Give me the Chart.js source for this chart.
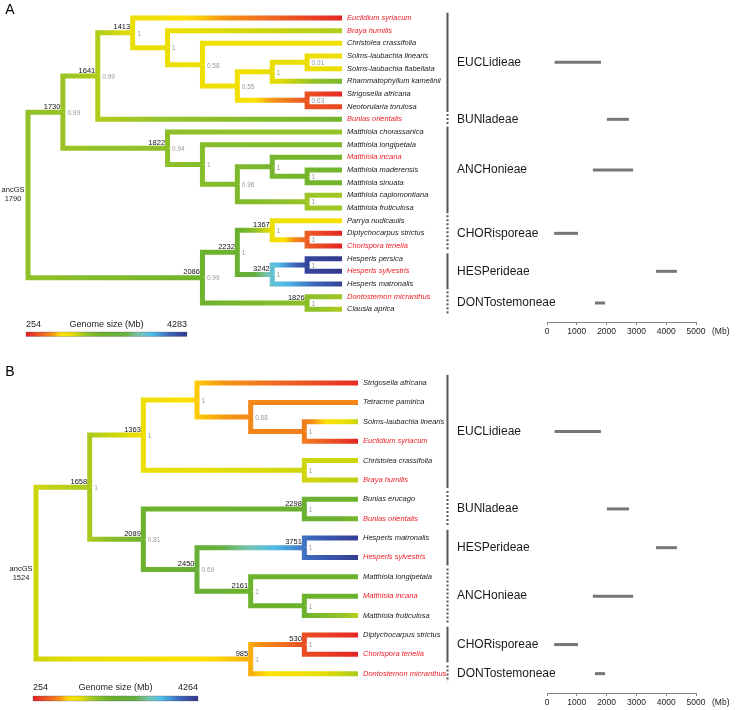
<!DOCTYPE html>
<html>
<head>
<meta charset="utf-8">
<script src="https://cdn.jsdelivr.net/npm/chart.js@4.4.0/dist/chart.umd.min.js"></script>
<style>
  body { margin: 0; background: #fff; }
  #wrap { position: relative; width: 740px; height: 710px; }
  canvas { position: absolute; }
</style>
</head>
<body>
<div id="wrap">
  <canvas id="treeA" width="450" height="345" style="left:0;top:0"></canvas>
  <canvas id="rangeA" width="295" height="345" style="left:445px;top:0"></canvas>
  <canvas id="treeB" width="450" height="360" style="left:0;top:350px"></canvas>
  <canvas id="rangeB" width="295" height="360" style="left:445px;top:350px"></canvas>
</div>
<script>
// ---- panel A data ----
const tipNamesA = ['Euclidium syriacum', 'Braya humilis', 'Christolea crassifolia', 'Solms-laubachia linearis',
  'Solms-laubachia flabellata', 'Rhammatophyllum kamelinii', 'Strigosella africana', 'Neotorularia torulosa',
  'Bunias orientalis', 'Matthiola chorassanica', 'Matthiola longipetala', 'Matthiola incana',
  'Matthiola maderensis', 'Matthiola sinuata', 'Matthiola capiomontiana', 'Matthiola fruticulosa',
  'Parrya nudicaulis', 'Diptychocarpus strictus', 'Chorispora tenella', 'Hesperis persica',
  'Hesperis sylvestris', 'Hesperis matronalis', 'Dontostemon micranthus', 'Clausia aprica'];
const tipGsA = [300, 1650, 1300, 1350, 1350, 2000, 300, 480, 2050, 1750, 1950, 2050,
  2050, 2050, 1700, 1700, 1200, 300, 280, 4250, 4250, 4200, 1700, 1650];
const redTipsA = [0, 1, 8, 11, 18, 20, 22];
// tree topology, internal nodes numbered in order of their opening bracket
const treeA = '((((0,(1,(2,(((3,4),5),(6,7))))),8),(9,(10,((11,(12,13)),(14,15))))),(((16,(17,18)),((19,20),21)),(22,23)))';
const nodeDepthA = [0, 1, 2, 3, 4, 5, 6, 7, 8, 8, 4, 5, 6, 7, 8, 8, 5, 6, 7, 8, 7, 8, 8];
const nodeGsA = [1790, 1730, 1641, 1413, 1380, 1330, 1300, 1400, 1380, 560, 1822, 1880,
  1950, 2020, 2050, 1720, 2086, 2232, 1367, 620, 3242, 4150, 1826];
const nodeSupportA = [null, 0.99, 0.99, 1, 1, 0.58, 0.55, 1, 0.91, 0.63, 0.94, 1,
  0.96, 1, 1, 1, 0.99, 1, 1, 1, 1, 1, 1];
const labelledNodesA = [1, 2, 3, 10, 16, 17, 18, 20, 22];
const tipDepthA = 9;
const gsRangeA = [254, 4283];
const tribeNamesA = ['EUCLidieae', 'BUNladeae', 'ANCHonieae', 'CHORisporeae', 'HESPerideae', 'DONTostemoneae'];
const tribeFirstA = [0, 8, 9, 16, 19, 22];
const tribeLastA = [7, 8, 15, 18, 21, 23];
const tribeMinA = [254, 2010, 1540, 240, 3660, 1610];
const tribeMaxA = [1810, 2750, 2890, 1040, 4360, 1950];

// ---- panel B data ----
const tipNamesB = ['Strigosella africana', 'Tetracme pamirica', 'Solms-laubachia linearis', 'Euclidium syriacum',
  'Christolea crassifolia', 'Braya humilis', 'Bunias erucago', 'Bunias orientalis', 'Hesperis matronalis',
  'Hesperis sylvestris', 'Matthiola longipetala', 'Matthiola incana', 'Matthiola fruticulosa',
  'Diptychocarpus strictus', 'Chorispora tenella', 'Dontostemon micranthus'];
const tipGsB = [330, 850, 1550, 300, 1520, 1580, 2100, 2000, 4200, 4200, 2100, 2100, 1600, 300, 290, 1650];
const redTipsB = [3, 5, 7, 9, 11, 14, 15];
const treeB = '((((0,(1,(2,3))),(4,5)),((6,7),((8,9),(10,(11,12))))),((13,14),15))';
const nodeDepthB = [0, 1, 2, 3, 4, 5, 5, 2, 5, 3, 5, 4, 5, 4, 5];
const nodeGsB = [1524, 1658, 1363, 1050, 850, 800, 1520, 2089, 2298, 2450, 3751, 2161, 2100, 985, 530];
const nodeSupportB = [null, 1, 1, 1, 0.88, 1, 1, 0.81, 1, 0.69, 1, 1, 1, 1, 1];
const labelledNodesB = [1, 2, 7, 8, 9, 10, 11, 13, 14];
const tipDepthB = 6;
const gsRangeB = [254, 4264];
const tribeNamesB = ['EUCLidieae', 'BUNladeae', 'HESPerideae', 'ANCHonieae', 'CHORisporeae', 'DONTostemoneae'];
const tribeFirstB = [0, 6, 8, 10, 13, 15];
const tribeLastB = [5, 7, 9, 12, 14, 15];
const tribeMinB = [254, 2010, 3660, 1540, 240, 1610];
const tribeMaxB = [1810, 2750, 4360, 2890, 1040, 1950];

const mbTicks = [0, 1000, 2000, 3000, 4000, 5000];

const FONT = '"Liberation Sans", Arial, sans-serif';

// genome size colour ramp (red - yellow - green - blue)
const rampStops = [0, 0.1, 0.17, 0.21, 0.29, 0.37, 0.46, 0.62, 0.7, 0.78, 0.89, 1];
const rampColors = [[228, 30, 36], [238, 100, 35], [245, 150, 20], [255, 225, 0], [232, 222, 0],
  [150, 195, 40], [108, 178, 45], [100, 175, 60], [120, 195, 175], [80, 190, 235], [60, 100, 185], [50, 55, 140]];

function rampAt(t) {
  t = Math.max(0, Math.min(1, t));
  let i = 0;
  while (i < rampStops.length - 2 && t > rampStops[i + 1]) i++;
  const f = (t - rampStops[i]) / (rampStops[i + 1] - rampStops[i]);
  const a = rampColors[i], b = rampColors[i + 1];
  const c = a.map((v, k) => Math.round(v + (b[k] - v) * f));
  return `rgb(${c[0]},${c[1]},${c[2]})`;
}

function gsColor(v, range) {
  return rampAt((v - range[0]) / (range[1] - range[0]));
}

function parseTree(str) {
  const nodes = [];
  let pos = 0;
  function read() {
    if (str[pos] === '(') {
      const id = nodes.length;
      nodes.push({ kids: [] });
      pos++;
      while (true) {
        nodes[id].kids.push(read());
        if (str[pos] === ',') { pos++; continue; }
        pos++;
        break;
      }
      return { node: id };
    }
    let num = '';
    while (/\d/.test(str[pos])) num += str[pos++];
    return { tip: +num };
  }
  read();
  return nodes;
}

function branchColor(x0, x1, v0, v1, range) {
  return function(ctx) {
    const chart = ctx.chart;
    const sx = chart.scales.x;
    if (!chart.chartArea || !sx) return gsColor(v0, range);
    const p0 = sx.getPixelForValue(x0);
    const p1 = sx.getPixelForValue(x1);
    const g = chart.ctx.createLinearGradient(p0, 0, p1, 0);
    for (let i = 0; i <= 12; i++) {
      g.addColorStop(i / 12, gsColor(v0 + (v1 - v0) * i / 12, range));
    }
    return g;
  };
}

function makeTree(canvasId, p) {
  const nodes = parseTree(p.tree);
  const nodeY = [];
  function place(id) {
    const ys = nodes[id].kids.map(k => k.tip !== undefined ? k.tip : place(k.node));
    nodeY[id] = (ys[0] + ys[ys.length - 1]) / 2;
    return nodeY[id];
  }
  place(0);

  const isTip = r => r.tip !== undefined;
  const datasets = [];
  nodes.forEach((n, id) => {
    n.kids.forEach(k => {
      const x0 = p.nodeDepth[id], y0 = nodeY[id];
      const x1 = isTip(k) ? p.tipDepth : p.nodeDepth[k.node];
      const y1 = isTip(k) ? k.tip : nodeY[k.node];
      const v1 = isTip(k) ? p.tipGs[k.tip] : p.nodeGs[k.node];
      datasets.push({
        data: [{ x: x0, y: y0 }, { x: x0, y: y1 }, { x: x1, y: y1 }],
        showLine: true,
        borderWidth: 5,
        pointRadius: 0,
        pointHoverRadius: 0,
        borderJoinStyle: 'miter',
        borderCapStyle: 'butt',
        clip: false,
        borderColor: branchColor(x0, x1, p.nodeGs[id], v1, p.gsRange)
      });
    });
  });

  const textPlugin = {
    id: 'treeText',
    afterDatasetsDraw(chart) {
      const c = chart.ctx;
      const sx = chart.scales.x, sy = chart.scales.y;
      c.save();
      // tip names
      c.font = `italic 7.5px ${FONT}`;
      c.textAlign = 'left';
      c.textBaseline = 'middle';
      const tx = sx.getPixelForValue(p.tipDepth) + 5;
      p.tipNames.forEach((name, i) => {
        c.fillStyle = p.redTips.includes(i) ? '#ec1c24' : '#1a1a1a';
        c.fillText(name, tx, sy.getPixelForValue(i));
      });
      // ancestral genome sizes
      c.font = `7.5px ${FONT}`;
      c.fillStyle = '#111';
      c.textAlign = 'right';
      p.labelledNodes.forEach(id => {
        c.fillText(String(p.nodeGs[id]), sx.getPixelForValue(p.nodeDepth[id]) - 2.5,
          sy.getPixelForValue(nodeY[id]) - 5.5);
      });
      // support values
      c.font = `6.5px ${FONT}`;
      c.fillStyle = '#9a9a9a';
      c.textAlign = 'left';
      p.nodeSupport.forEach((s, id) => {
        if (s === null) return;
        c.fillText(String(s), sx.getPixelForValue(p.nodeDepth[id]) + 4.5,
          sy.getPixelForValue(nodeY[id]) + 1);
      });
      // root label
      c.font = `7.5px ${FONT}`;
      c.fillStyle = '#1a1a1a';
      c.textAlign = 'center';
      const rx = sx.getPixelForValue(0) - 15, ry = sy.getPixelForValue(nodeY[0]);
      c.fillText('ancGS', rx, ry - 4.5);
      c.fillText(String(p.nodeGs[0]), rx, ry + 4.5);
      // panel letter
      c.font = `14px ${FONT}`;
      c.fillStyle = '#000';
      c.fillText(p.letter, 10, p.letterY);
      // colour bar legend
      const L = p.legend;
      const g = c.createLinearGradient(L.left, 0, L.left + L.width, 0);
      for (let i = 0; i <= 40; i++) g.addColorStop(i / 40, rampAt(i / 40));
      c.fillStyle = g;
      c.fillRect(L.left, L.top, L.width, L.height);
      c.strokeStyle = 'rgba(90,90,110,0.5)';
      c.lineWidth = 0.6;
      c.strokeRect(L.left, L.top, L.width, L.height);
      c.font = `9px ${FONT}`;
      c.fillStyle = '#222';
      c.textAlign = 'left';
      c.fillText(String(p.gsRange[0]), L.left, L.labelY);
      c.textAlign = 'right';
      c.fillText(String(p.gsRange[1]), L.left + L.width, L.labelY);
      c.textAlign = 'center';
      c.fillText('Genome size (Mb)', L.left + L.width / 2, L.labelY);
      c.restore();
    }
  };

  return new Chart(document.getElementById(canvasId), {
    type: 'scatter',
    data: { datasets },
    options: {
      responsive: false,
      animation: false,
      events: [],
      layout: { padding: p.padding },
      scales: {
        x: { type: 'linear', display: false, min: 0, max: p.tipDepth },
        y: { type: 'linear', display: false, min: 0, max: p.yMax, reverse: true }
      },
      plugins: { legend: { display: false }, tooltip: { enabled: false } }
    },
    plugins: [textPlugin]
  });
}

function makeRanges(canvasId, p) {
  const datasets = p.names.map((n, i) => {
    const mid = (p.first[i] + p.last[i]) / 2;
    return {
      label: n,
      data: [{ x: p.min[i], y: mid }, { x: p.max[i], y: mid }],
      showLine: true,
      borderWidth: 3,
      borderColor: '#7b7474',
      borderCapStyle: 'butt',
      pointRadius: 0,
      pointHoverRadius: 0,
      clip: false
    };
  });

  const tribePlugin = {
    id: 'tribes',
    afterDatasetsDraw(chart) {
      const c = chart.ctx;
      const sx = chart.scales.x, sy = chart.scales.y;
      c.save();
      p.names.forEach((n, i) => {
        const top = sy.getPixelForValue(p.first[i] - 0.42);
        const bot = sy.getPixelForValue(p.last[i] + 0.42);
        c.strokeStyle = '#555';
        c.lineWidth = 2;
        c.setLineDash(i % 2 === 0 ? [] : [2, 2]);
        c.beginPath();
        c.moveTo(2.5, top);
        c.lineTo(2.5, bot);
        c.stroke();
        c.setLineDash([]);
        c.font = `12px ${FONT}`;
        c.fillStyle = '#1a1a1a';
        c.textAlign = 'left';
        c.textBaseline = 'middle';
        c.fillText(n, 12, sy.getPixelForValue((p.first[i] + p.last[i]) / 2));
      });
      c.font = `8.5px ${FONT}`;
      c.fillStyle = '#222';
      c.textAlign = 'left';
      c.fillText('(Mb)', sx.right + 16, sx.top + 10);
      c.restore();
    }
  };

  return new Chart(document.getElementById(canvasId), {
    type: 'scatter',
    data: { datasets },
    options: {
      responsive: false,
      animation: false,
      events: [],
      layout: { padding: p.padding },
      scales: {
        x: {
          type: 'linear', min: 0, max: 5000,
          afterFit: s => { s.height = p.axisHeight; },
          afterBuildTicks: s => { s.ticks = mbTicks.map(v => ({ value: v })); },
          ticks: {
            font: { size: 8.5, family: FONT }, color: '#222', padding: 2, maxRotation: 0,
            callback: v => String(v)
          },
          grid: { drawOnChartArea: false, tickLength: 3, color: '#666', lineWidth: 0.8 },
          border: { color: '#666', width: 0.8 }
        },
        y: { type: 'linear', display: false, min: 0, max: p.yMax, reverse: true }
      },
      plugins: { legend: { display: false }, tooltip: { enabled: false } }
    },
    plugins: [tribePlugin]
  });
}

makeTree('treeA', {
  tree: treeA, tipNames: tipNamesA, tipGs: tipGsA, redTips: redTipsA,
  nodeDepth: nodeDepthA, nodeGs: nodeGsA, nodeSupport: nodeSupportA,
  labelledNodes: labelledNodesA, tipDepth: tipDepthA, gsRange: gsRangeA,
  yMax: 24, padding: { left: 28, right: 108, top: 18, bottom: 23 },
  letter: 'A', letterY: 10,
  legend: { left: 26, width: 161, top: 332, height: 4.5, labelY: 325 }
});
makeRanges('rangeA', {
  names: tribeNamesA, first: tribeFirstA, last: tribeLastA, min: tribeMinA, max: tribeMaxA,
  yMax: 24, axisHeight: 23, padding: { left: 102, right: 44, top: 18, bottom: 0 }
});
makeTree('treeB', {
  tree: treeB, tipNames: tipNamesB, tipGs: tipGsB, redTips: redTipsB,
  nodeDepth: nodeDepthB, nodeGs: nodeGsB, nodeSupport: nodeSupportB,
  labelledNodes: labelledNodesB, tipDepth: tipDepthB, gsRange: gsRangeB,
  yMax: 16, padding: { left: 36, right: 92, top: 33, bottom: 17 },
  letter: 'B', letterY: 22,
  legend: { left: 33, width: 165, top: 346, height: 5, labelY: 338 }
});
makeRanges('rangeB', {
  names: tribeNamesB, first: tribeFirstB, last: tribeLastB, min: tribeMinB, max: tribeMaxB,
  yMax: 16, axisHeight: 17, padding: { left: 102, right: 44, top: 33, bottom: 0 }
});
</script>
</body>
</html>
